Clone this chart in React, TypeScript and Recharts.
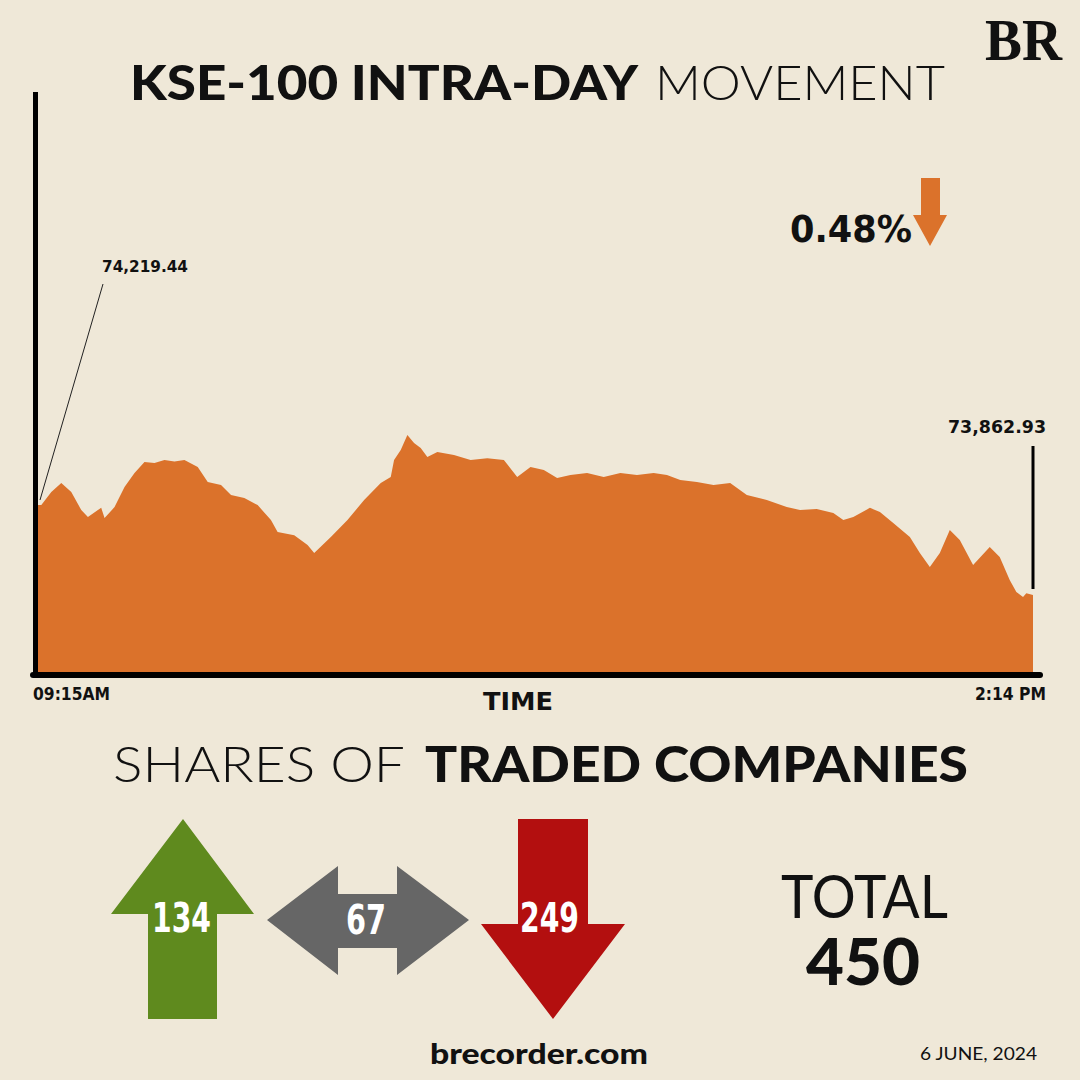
import React from 'react';
import { AreaChart, Area, XAxis, YAxis } from 'recharts';

// minutes since 09:15 open
const minutes = [0,1,4,7,10,13,15,18,19,20,23,26,29,32,35,38,41,44,48,51,55,58,62,66,70,72,77,81,83,88,93,98,103,106,107,109,111,113,115,117,120,125,130,135,140,144,148,152,156,160,165,170,175,180,185,189,193,198,203,208,213,219,225,229,234,239,242,245,250,253,257,262,265,268,271,274,277,281,286,289,292,294,296,297,299];
const kseValues = [74219.44,74219,74271,74307,74271,74200,74172,74200,74208,74168,74211,74291,74346,74390,74386,74398,74392,74398,74370,74310,74299,74259,74247,74219,74160,74112,74100,74061,74029,74093,74160,74239,74307,74330,74398,74437,74497,74465,74445,74409,74429,74417,74398,74405,74398,74330,74370,74358,74326,74338,74346,74330,74346,74338,74346,74338,74318,74310,74299,74307,74259,74239,74211,74200,74204,74188,74160,74172,74208,74192,74148,74093,74029,73974,74029,74120,74081,73982,74053,74013,73922,73875,73855,73870,73862.93];
const timeTicks = [0, 299];
const timeLabels = ['09:15AM', '2:14 PM'];
const yDomain = [73558, 75855];

const openLabel = '74,219.44';
const closeLabel = '73,862.93';
const changeLabel = '0.48%';

const shareCategories = ['Up', 'Unchanged', 'Down'];
const shareCounts = [134, 67, 249];
const shareTotal = 450;

const data = minutes.map((m, i) => ({ m, v: kseValues[i] }));

const BG = '#EFE8D8';
const ORANGE = '#DB722B';
const NARROW = '"Liberation Sans Narrow", "DejaVu Sans Condensed", sans-serif';
const GEO = 'Lato, "Open Sans", sans-serif';

const TimeTick = (props: any) => {
  const { x, y, payload, index } = props;
  const first = index === 0;
  return (
    <text
      x={first ? x - 5 : x + 13}
      y={y + 26}
      textAnchor={first ? 'start' : 'end'}
      fontFamily={NARROW}
      fontWeight={700}
      fontSize={17}
      textLength={first ? 77 : 71}
      lengthAdjust="spacingAndGlyphs"
      fill="#111"
    >
      {timeLabels[timeTicks.indexOf(payload.value)]}
    </text>
  );
};

export default function App() {
  return (
    <div style={{ position: 'absolute', left: 0, top: 0, width: 1080, height: 1080, background: BG, overflow: 'hidden' }}>
      <AreaChart
        width={1080}
        height={1080}
        data={data}
        margin={{ top: 92, right: 47, bottom: 378, left: 38 }}
      >
        <XAxis
          type="number"
          dataKey="m"
          domain={[0, 299]}
          ticks={timeTicks}
          axisLine={false}
          tickLine={false}
          tickSize={0}
          height={30}
          tick={<TimeTick />}
          interval={0}
        />
        <YAxis hide domain={yDomain} allowDataOverflow />
        <Area
          type="linear"
          dataKey="v"
          stroke="none"
          fill={ORANGE}
          fillOpacity={1}
          isAnimationActive={false}
          baseValue={yDomain[0]}
        />
      </AreaChart>
      <svg width={1080} height={1080} style={{ position: 'absolute', left: 0, top: 0, pointerEvents: 'none' }}>
        {/* BR logo */}
        <text x={985} y={60} fontFamily='"Liberation Serif", "DejaVu Serif", serif' fontWeight={700} fontSize={60} textLength={77} lengthAdjust="spacingAndGlyphs" fill="#111">BR</text>
        {/* Title */}
        <text x={130} y={100} fontFamily={GEO} fontWeight={900} fontSize={48} textLength={508} lengthAdjust="spacingAndGlyphs" fill="#111">KSE-100 INTRA-DAY</text>
        <text x={655} y={100} fontFamily={GEO} fontWeight={300} fontSize={48} textLength={290} lengthAdjust="spacingAndGlyphs" fill="#111">MOVEMENT</text>

        {/* axes */}
        <line x1={35.5} y1={92} x2={35.5} y2={678} stroke="#000" strokeWidth={5} />
        <line x1={33} y1={675} x2={1040} y2={675} stroke="#000" strokeWidth={6} strokeLinecap="round" />

        {/* open annotation */}
        <line x1={40} y1={500} x2={103} y2={284} stroke="#222" strokeWidth={1} />
        <text x={102} y={272} fontFamily={NARROW} fontWeight={700} fontSize={16} textLength={86} lengthAdjust="spacingAndGlyphs" fill="#111">{openLabel}</text>
        {/* close annotation */}
        <line x1={1033} y1={446} x2={1033} y2={589} stroke="#000" strokeWidth={3} />
        <text x={948} y={433} fontFamily={NARROW} fontWeight={700} fontSize={17} textLength={98} lengthAdjust="spacingAndGlyphs" fill="#111">{closeLabel}</text>

        {/* change */}
        <text x={790} y={242} fontFamily={NARROW} fontWeight={700} fontSize={38} textLength={122} lengthAdjust="spacingAndGlyphs" fill="#111">{changeLabel}</text>
        <path d="M921 178 H940 V215 H947 L930 246 L913 215 H921 Z" fill={ORANGE} />

        {/* TIME */}
        <text x={483} y={710} fontFamily={NARROW} fontWeight={700} fontSize={25} textLength={70} lengthAdjust="spacingAndGlyphs" fill="#111">TIME</text>

        {/* Shares heading */}
        <text x={113} y={782} fontFamily={GEO} fontWeight={300} fontSize={50} textLength={292} lengthAdjust="spacingAndGlyphs" fill="#111">SHARES OF</text>
        <text x={425} y={782} fontFamily={GEO} fontWeight={900} fontSize={50} textLength={543} lengthAdjust="spacingAndGlyphs" fill="#111">TRADED COMPANIES</text>

        {/* up arrow */}
        <path d="M183 819 L254 914 H217 V1019 H148 V914 H111 Z" fill="#5F8A1E" />
        <text x={152} y={932} fontFamily={NARROW} fontWeight={700} fontSize={40} textLength={59} lengthAdjust="spacingAndGlyphs" fill="#fff">{shareCounts[0]}</text>
        {/* unchanged arrow */}
        <path d="M267 920 L338 866 V894 H397 V866 L469 920 L397 975 V948 H338 V975 Z" fill="#666666" />
        <text x={346} y={934} fontFamily={NARROW} fontWeight={700} fontSize={40} textLength={40} lengthAdjust="spacingAndGlyphs" fill="#fff">{shareCounts[1]}</text>
        {/* down arrow */}
        <path d="M518 819 H588 V924 H625 L553 1019 L481 924 H518 Z" fill="#B30F0F" />
        <text x={520} y={932} fontFamily={NARROW} fontWeight={700} fontSize={40} textLength={59} lengthAdjust="spacingAndGlyphs" fill="#fff">{shareCounts[2]}</text>

        {/* total */}
        <text x={781} y={918} fontFamily={GEO} fontWeight={400} fontSize={60} textLength={167} lengthAdjust="spacingAndGlyphs" fill="#111">TOTAL</text>
        <text x={806} y={985} fontFamily={GEO} fontWeight={900} fontSize={64} textLength={114} lengthAdjust="spacingAndGlyphs" fill="#111">{shareTotal}</text>

        {/* footer */}
        <text x={430} y={1064} fontFamily={GEO} fontWeight={900} fontSize={29} textLength={218} lengthAdjust="spacingAndGlyphs" fill="#111">brecorder.com</text>
        <text x={920} y={1060} fontFamily={GEO} fontWeight={400} fontSize={17} textLength={117} lengthAdjust="spacingAndGlyphs" fill="#111">6 JUNE, 2024</text>
      </svg>
    </div>
  );
}
